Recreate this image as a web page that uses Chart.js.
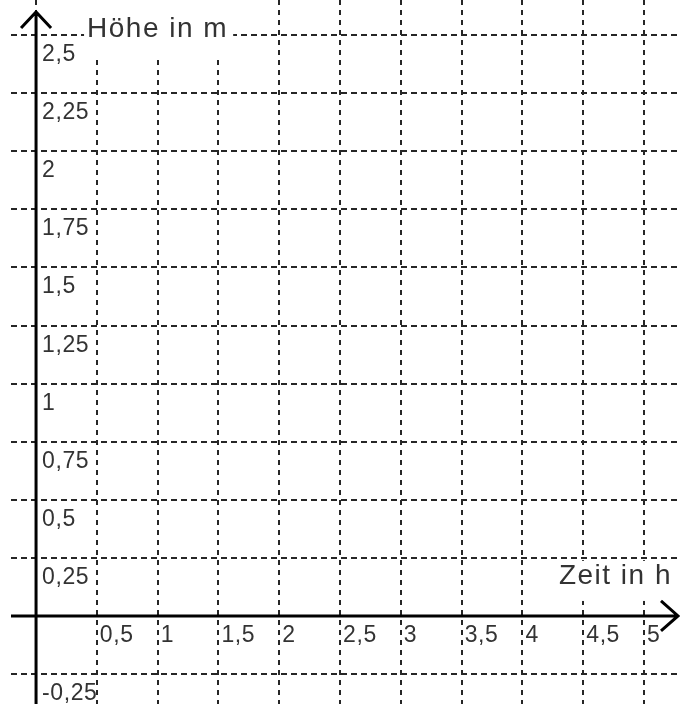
<!DOCTYPE html>
<html lang="de">
<head>
<meta charset="utf-8">
<title>Höhe und Zeit</title>
<script src="https://cdn.jsdelivr.net/npm/chart.js@4.4.1/dist/chart.umd.min.js"></script>
<style>
    html, body { margin: 0; padding: 0; background: #fff; }
    canvas { display: block; }
</style>
</head>
<body>
<canvas id="chart" width="681" height="704"></canvas>
<script>
// Gitter- und Achsenbeschriftungen
const xTicks = [0, 0.5, 1, 1.5, 2, 2.5, 3, 3.5, 4, 4.5, 5];
const xLabels = ['', '0,5', '1', '1,5', '2', '2,5', '3', '3,5', '4', '4,5', '5'];
const yTicks = [-0.25, 0, 0.25, 0.5, 0.75, 1, 1.25, 1.5, 1.75, 2, 2.25, 2.5];
const yLabels = ['-0,25', '', '0,25', '0,5', '0,75', '1', '1,25', '1,5', '1,75', '2', '2,25', '2,5'];
const xTitle = 'Zeit in h';
const yTitle = 'Höhe in m';

const gridColor = '#262626';
const textColor = '#333';
const fontFamily = '"Liberation Sans", Arial, sans-serif';

// Achsen mit Pfeilen, Titel und Zahlen
const axesPlugin = {
    id: 'axesPlugin',
    afterDraw(chart) {
        const { ctx, scales: { x, y } } = chart;
        const W = chart.width;
        const H = chart.height;
        const x0 = x.getPixelForValue(0);
        const y0 = y.getPixelForValue(0);

        ctx.save();

        // white boxes behind the titles
        ctx.font = '28px ' + fontFamily;
        ctx.letterSpacing = '1.5px';
        const yTitleX = x0 + 51;
        const yTitleW = ctx.measureText(yTitle).width;
        ctx.fillStyle = '#fff';
        ctx.fillRect(yTitleX - 3, 0, yTitleW + 8, y.getPixelForValue(2.5) + 22);

        const xTitleRight = W - 9;
        const xTitleW = ctx.measureText(xTitle).width;
        const boxTop = y.getPixelForValue(0.25) + 3;
        ctx.fillRect(xTitleRight - xTitleW - 6, boxTop, W, y0 - 15 - boxTop);

        // axes
        ctx.strokeStyle = '#000';
        ctx.lineWidth = 3;
        ctx.lineJoin = 'miter';
        ctx.beginPath();
        ctx.moveTo(chart.chartArea.left, y0);
        ctx.lineTo(W - 4, y0);
        ctx.moveTo(W - 20, y0 - 15);
        ctx.lineTo(W - 3, y0);
        ctx.lineTo(W - 20, y0 + 15);
        ctx.stroke();

        ctx.beginPath();
        ctx.moveTo(x0, H);
        ctx.lineTo(x0, 13);
        ctx.moveTo(x0 - 15, 28);
        ctx.lineTo(x0, 12);
        ctx.lineTo(x0 + 15, 28);
        ctx.stroke();

        // titles
        ctx.fillStyle = textColor;
        ctx.textBaseline = 'alphabetic';
        ctx.textAlign = 'left';
        ctx.fillText(yTitle, yTitleX, y.getPixelForValue(2.5) + 2);
        ctx.textAlign = 'right';
        ctx.fillText(xTitle, xTitleRight, y0 - 32);

        // tick labels
        ctx.font = '23px ' + fontFamily;
        ctx.letterSpacing = '0.6px';
        ctx.textAlign = 'left';
        yTicks.forEach((v, i) => {
            if (!yLabels[i]) return;
            ctx.fillText(yLabels[i], x0 + 6, y.getPixelForValue(v) + 26);
        });
        xTicks.forEach((v, i) => {
            if (!xLabels[i]) return;
            ctx.fillText(xLabels[i], x.getPixelForValue(v) + 3, y0 + 26);
        });

        ctx.restore();
    }
};

new Chart(document.getElementById('chart'), {
    type: 'scatter',
    data: { datasets: [] },
    options: {
        responsive: false,
        animation: false,
        events: [],
        layout: { padding: { left: 11, right: 0, top: 0, bottom: 0 } },
        plugins: {
            legend: { display: false },
            tooltip: { enabled: false }
        },
        scales: {
            x: {
                type: 'linear',
                min: -0.206,
                max: 5.304,
                afterBuildTicks: (scale) => {
                    scale.ticks = xTicks.map(v => ({ value: v }));
                },
                afterFit: (scale) => { scale.height = 0; },
                ticks: { display: false },
                grid: { color: gridColor, lineWidth: 2, drawTicks: false },
                border: { display: false, dash: [5, 5] }
            },
            y: {
                type: 'linear',
                min: -0.379,
                max: 2.651,
                afterBuildTicks: (scale) => {
                    scale.ticks = yTicks.map(v => ({ value: v }));
                },
                afterFit: (scale) => { scale.width = 0; },
                ticks: { display: false },
                grid: { color: gridColor, lineWidth: 2, drawTicks: false },
                border: { display: false, dash: [6, 4] }
            }
        }
    },
    plugins: [axesPlugin]
});
</script>
</body>
</html>
